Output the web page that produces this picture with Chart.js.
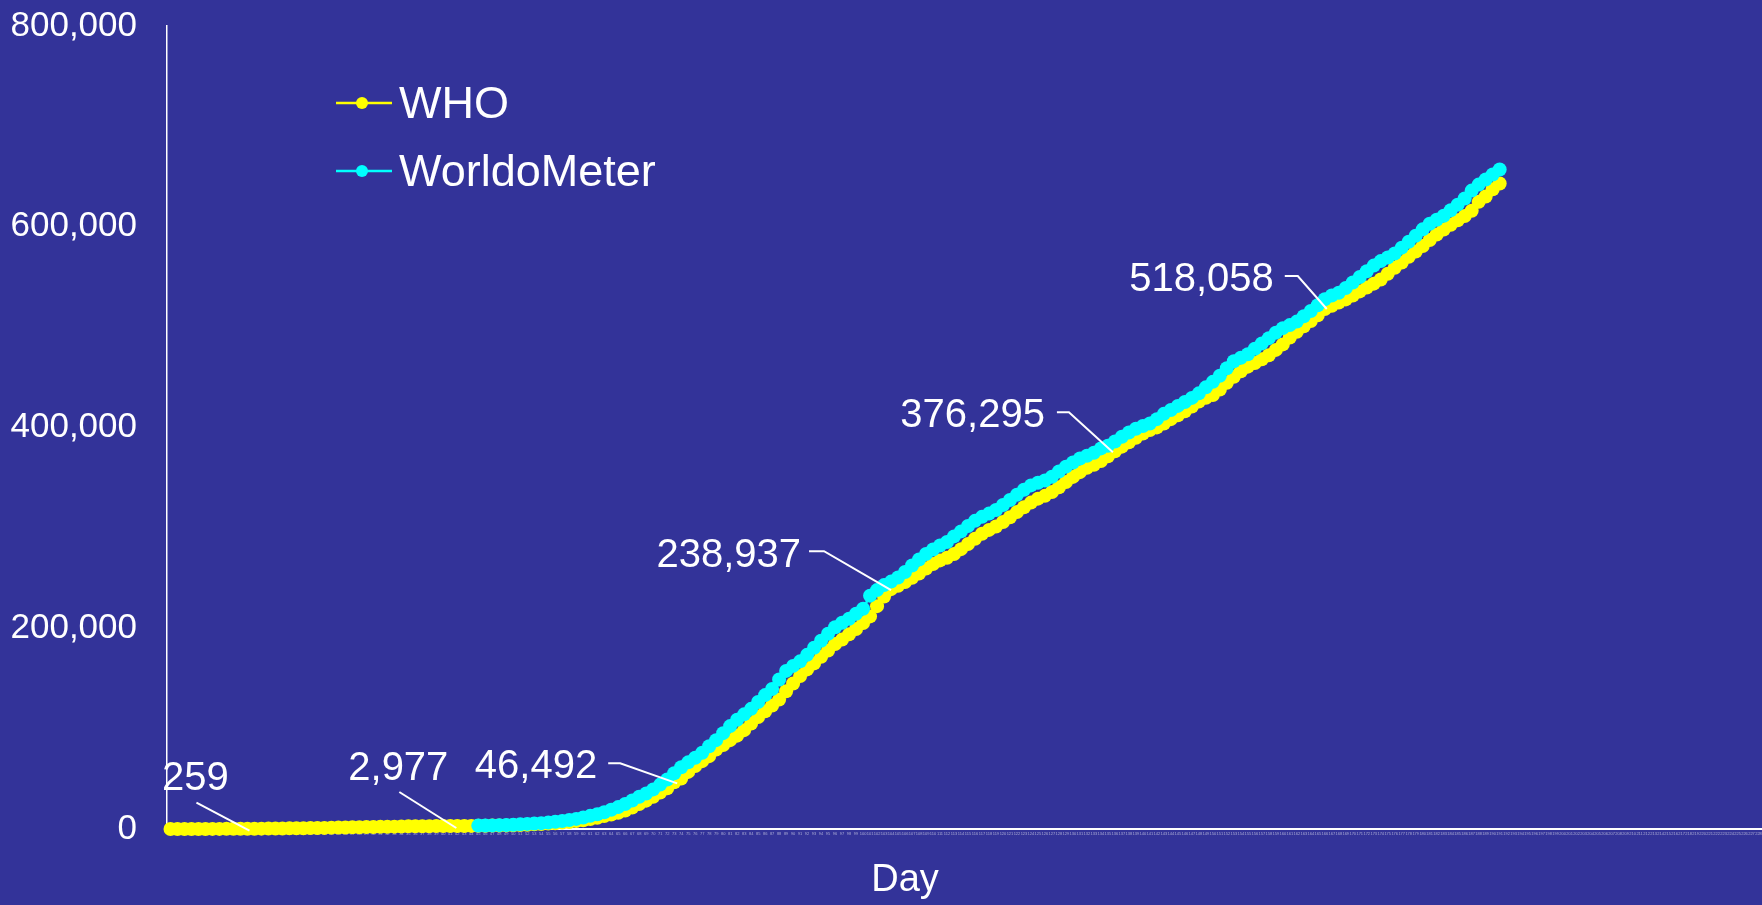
<!DOCTYPE html>
<html>
<head>
<meta charset="utf-8">
<title>WHO vs WorldoMeter</title>
<script src="https://cdn.jsdelivr.net/npm/chart.js@4.4.1/dist/chart.umd.min.js"></script>
<style>
  html, body { margin: 0; padding: 0; background: #333399; }
  #wrap { width: 1762px; height: 905px; }
</style>
</head>
<body>
<div id="wrap"><canvas id="chart" width="1762" height="905"></canvas></div>
<script>
const FONT = '"Liberation Sans", Arial, sans-serif';

// category axis: day numbers
const dayCount = 228;
const days = [];
for (let d = 1; d <= dayCount; d++) days.push(String(d));

const seriesNames = ['WHO', 'WorldoMeter'];
const seriesColors = ['#ffff00', '#00ffff'];

// WHO cumulative deaths, day 1 .. 191
const whoDeaths = [
  6, 6, 17, 25, 41, 56, 80, 106, 132, 170, 213,
  259,
  305, 362, 426, 492, 565, 638, 724, 813, 910, 1018, 1115, 1369, 1383, 1526, 1669, 1775, 1873,
  2009, 2129, 2247, 2360, 2462, 2618, 2699, 2763, 2801, 2872, 2923, 2950,
  2977,
  3043, 3112, 3198, 3285, 3380, 3460, 3584, 3809, 4012, 4291, 4613, 4972, 5393, 5735, 6440,
  7007, 7905, 8778, 9840, 11184, 12944, 14509, 16231, 18433, 21297, 24863, 28250, 32137, 36405, 40598,
  46492,
  50300, 56900, 62800, 67600, 72600, 79200, 83600, 88500, 93000, 98500, 105000, 111600, 117200,
  123000, 128900, 137200, 145000, 152500, 159000, 165000, 171500, 177800, 184200, 188700, 193900,
  199300, 205200, 211800, 222000, 231700,
  238937,
  242400, 246000, 250200, 254600, 259500, 264000, 267600, 270300, 273900, 278800, 284000, 289200,
  294100, 298000, 301400, 305900, 310600, 315700, 320600, 325200, 329100, 331900, 335700, 340400,
  345600, 350800, 355500, 359800, 362900, 366600, 371300,
  376295,
  380900, 385300, 389700, 394000, 397400, 400100, 403900, 408300, 412100, 416200, 420800, 425900,
  429600, 432300, 437800, 444500, 450500, 456000, 460600, 464300, 467900, 472000, 477300, 482800,
  489600, 495300, 500800, 506000, 511900,
  518058,
  521300, 524600, 527600, 531400, 535600, 539400, 543300, 547400, 553200, 559100, 564400, 570000,
  575400, 580700, 586800, 592300, 597200, 601900, 606400, 610600, 616000, 624800, 630200, 637400, 643100
];

// WorldoMeter cumulative deaths, day 45 .. 191
const worldoStartDay = 45;
const worldoDeaths = [
  3387, 3494, 3599, 3827, 4030, 4291, 4632, 5084, 5441, 5837, 6530, 7174, 7987, 8985, 10061,
  11421, 13085, 14763, 16640, 19129, 21840, 24862, 28392, 32177, 35420, 39465, 44239, 49386, 55488, 61561,
  66400, 71000, 76000, 82500, 88500, 95500, 102500, 108800, 114200, 119700, 126500, 133400, 139500,
  149000, 157500, 162500, 167000, 173500, 180500, 187500, 194500, 201000, 205500, 209500, 214500,
  219500, 232500, 238000, 243000, 246500, 250500, 256000, 262500, 268500, 274000, 278500, 282500,
  286000, 291500, 296500, 301800, 307000, 311000, 314200, 317800, 322800, 327800, 333000, 338000, 342300,
  345000, 347200, 351000, 356200, 361000, 365200, 369100, 371900, 374900, 379200, 381800, 386000,
  390800, 395000, 398800, 401500, 404000, 408300, 413600, 417500, 421500, 425400, 429500, 434000,
  440000, 445500, 451500, 459000, 466000, 469500, 473000, 478500, 483800, 489000, 494500, 499000,
  502000, 505500, 510800, 516000, 521800, 527800, 531500, 534300, 539000, 544500, 550000, 555600,
  561300, 565800, 569400, 573400, 579200, 585000, 591000, 597400, 603000, 606900, 611000, 616500,
  622000, 628200, 636000, 642000, 647000, 652000, 657000
];

// labelled WHO points
const calloutDays = [12, 42, 73, 104, 136, 166];
const calloutValues = [259, 2977, 46492, 238937, 376295, 518058];
const calloutLabels = ['259', '2,977', '46,492', '238,937', '376,295', '518,058'];

// y axis
const yMin = 0;
const yMax = 800000;
const yStep = 200000;

// leader line / text offsets (px) from each labelled point
const calloutLayout = [
  { leader: [[-51, -26], [2, 2]], text: [-52, -39], align: 'center' },
  { leader: [[-58, -34], [-1, 2]], text: [-59, -46], align: 'center' },
  { leader: [[-66, -19], [-54, -19], [3, 1]], text: [-77, -4], align: 'right' },
  { leader: [[-82, -38], [-67, -38], [0, 1]], text: [-90, -22], align: 'right' },
  { leader: [[-58, -39], [-46, -39], [-2, 1]], text: [-70, -24], align: 'right' },
  { leader: [[-40, -33], [-27, -33], [2, 0]], text: [-51, -18], align: 'right' }
];

const worldoSeries = whoDeaths.map(function (v, i) {
  const day = i + 1;
  return day >= worldoStartDay ? worldoDeaths[day - worldoStartDay] : null;
});

//background, callouts, legend and axis title
const decorations = {
  id: 'decorations',
  beforeDraw(chart) {
    const ctx = chart.ctx;
    ctx.save();
    ctx.fillStyle = '#333399';
    ctx.fillRect(0, 0, chart.width, chart.height);
    ctx.restore();
  },
  afterDatasetsDraw(chart) {
    const ctx = chart.ctx;
    const xs = chart.scales.x;
    const ys = chart.scales.y;
    ctx.save();
    ctx.strokeStyle = '#ffffff';
    ctx.fillStyle = '#ffffff';
    ctx.lineWidth = 2;
    ctx.textBaseline = 'alphabetic';
    ctx.font = '40px ' + FONT;
    for (let i = 0; i < calloutDays.length; i++) {
      const px = xs.getPixelForValue(calloutDays[i] - 1);
      const py = ys.getPixelForValue(calloutValues[i]);
      const lay = calloutLayout[i];
      ctx.beginPath();
      lay.leader.forEach(function (p, j) {
        if (j === 0) ctx.moveTo(px + p[0], py + p[1]);
        else ctx.lineTo(px + p[0], py + p[1]);
      });
      ctx.stroke();
      ctx.textAlign = lay.align;
      ctx.fillText(calloutLabels[i], px + lay.text[0], py + lay.text[1]);
    }

    // legend
    const legendY = [103, 171];
    ctx.font = '45px ' + FONT;
    ctx.textAlign = 'left';
    for (let i = 0; i < seriesNames.length; i++) {
      ctx.strokeStyle = seriesColors[i];
      ctx.fillStyle = seriesColors[i];
      ctx.lineWidth = 2.5;
      ctx.beginPath();
      ctx.moveTo(336, legendY[i]);
      ctx.lineTo(392, legendY[i]);
      ctx.stroke();
      ctx.beginPath();
      ctx.arc(362, legendY[i], 6, 0, Math.PI * 2);
      ctx.fill();
      ctx.fillStyle = '#ffffff';
      ctx.fillText(seriesNames[i], 399, legendY[i] + 15);
    }

    // x axis title
    ctx.font = '38px ' + FONT;
    ctx.textAlign = 'center';
    ctx.fillStyle = '#ffffff';
    ctx.fillText('Day', 905, 891);
    ctx.restore();
  }
};

new Chart(document.getElementById('chart'), {
  type: 'line',
  data: {
    labels: days,
    datasets: [
      {
        label: seriesNames[0],
        data: whoDeaths,
        borderColor: seriesColors[0],
        backgroundColor: seriesColors[0],
        pointBackgroundColor: seriesColors[0],
        borderWidth: 2.5,
        pointRadius: 7,
        pointBorderWidth: 0,
        tension: 0,
        order: 2,
        clip: false
      },
      {
        label: seriesNames[1],
        data: worldoSeries,
        borderColor: seriesColors[1],
        backgroundColor: seriesColors[1],
        pointBackgroundColor: seriesColors[1],
        borderWidth: 2.5,
        pointRadius: 7,
        pointBorderWidth: 0,
        tension: 0,
        order: 1,
        clip: false
      }
    ]
  },
  options: {
    responsive: false,
    animation: false,
    devicePixelRatio: 1,
    layout: { autoPadding: false, padding: { top: 26, right: 0, bottom: 0, left: 0 } },
    plugins: {
      legend: { display: false },
      tooltip: { enabled: false }
    },
    scales: {
      x: {
        type: 'category',
        offset: true,
        grid: { display: false, drawTicks: false },
        border: { display: true, color: '#ffffff', width: 2 },
        ticks: {
          autoSkip: false,
          maxRotation: 0,
          minRotation: 0,
          padding: 2,
          color: 'rgba(255,255,255,0.55)',
          font: { size: 4, family: FONT }
        },
        afterFit(scale) {
          scale.height = 76;
          // axis runs right to the canvas edge
          scale.paddingLeft = 0;
          scale.paddingRight = 0;
        }
      },
      y: {
        min: yMin,
        max: yMax,
        // invisible tick marks give the gap between labels and axis
        grid: { display: false, drawTicks: true, tickLength: 30 },
        border: { display: true, color: '#ffffff', width: 1.5 },
        ticks: {
          stepSize: yStep,
          padding: 0,
          color: '#ffffff',
          font: { size: 35, family: FONT },
          callback: function (v) { return v.toLocaleString('en-US'); }
        },
        afterFit(scale) { scale.width = 167; }
      }
    }
  },
  plugins: [decorations]
});
</script>
</body>
</html>
